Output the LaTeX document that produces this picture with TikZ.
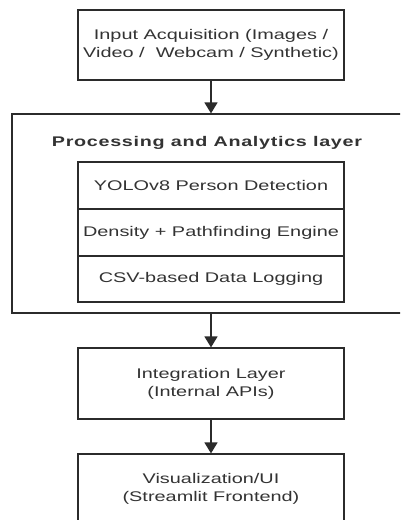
\documentclass[tikz,border=0pt]{standalone}
\usepackage{fontspec}
\setmainfont{Liberation Sans}[FakeStretch=1.42]
\newfontfamily\titlefont{Liberation Sans}[FakeStretch=1.41,LetterSpace=5]
\usetikzlibrary{arrows.meta}
\definecolor{ink}{HTML}{2B2B2B}
\definecolor{txt}{HTML}{333333}
\tikzset{
  box/.style={draw=ink, line width=1.2pt, minimum width=266pt, align=center,
    text=txt, font=\fontsize{14pt}{18pt}\selectfont, inner sep=0pt},
  layerbox/.style={draw=ink, line width=1.2pt, inner sep=0pt},
  flow/.style={draw=ink, line width=1.4pt, -{Triangle[length=11pt,width=13pt]}},
}
\begin{document}
\begin{tikzpicture}[x=1pt,y=-1pt]
\useasboundingbox (0,0) rectangle (400,520);
\clip (0,0) rectangle (400,520);
\fill[white] (0,0) rectangle (400,520);

% input stage
\node[box, minimum height=70pt] (input) at (211,45)
  {Input Acquisition (Images /\\Video /\ \ Webcam / Synthetic)};

% processing layer container and its title
\node[layerbox, minimum width=398pt, minimum height=199pt] (proc) at (211,213.5) {};
\node[text=txt, font=\titlefont\fontsize{14pt}{18pt}\selectfont\bfseries] (proctitle) at (207,143)
  {Processing and Analytics layer};

% stacked components inside the processing layer
\node[box, minimum height=47pt] (yolo) at (211,185.5) {YOLOv8 Person Detection};
\node[box, minimum height=47pt] (density) at (211,232.5) {Density + Pathfinding Engine};
\node[box, minimum height=46pt] (csv) at (211,279) {CSV-based Data Logging};

% integration and UI
\node[box, minimum height=71pt] (integ) at (211,383.5) {Integration Layer\\(Internal APIs)};
\node[box, minimum height=70pt] (viz) at (211,489) {Visualization/UI\\(Streamlit Frontend)};

% flow arrows
\draw[flow] (input.south) -- (proc.north);
\draw[flow] (proc.south) -- (integ.north);
\draw[flow] (integ.south) -- (viz.north);
\end{tikzpicture}
\end{document}
